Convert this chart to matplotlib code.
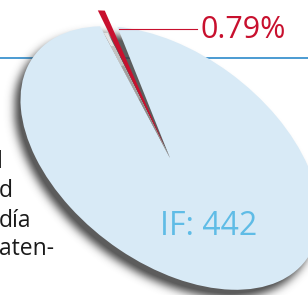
import numpy as np
import matplotlib
matplotlib.use('Agg')
from matplotlib import pyplot as plt
from matplotlib.patches import Wedge
from matplotlib.transforms import Affine2D

# data
shares = [0.79, 99.21]          # percent
slice_labels = ['0.79%', 'IF: 442']
side_text = ['l', 'd', 'día', 'aten-']

W, H = 308, 295
plt.rcParams['font.family'] = ['Open Sans', 'DejaVu Sans']

fig = plt.figure(figsize=(W / 100, H / 100), dpi=100)
ax = fig.add_axes([0, 0, 1, 1])
ax.set_xlim(0, W)
ax.set_ylim(H, 0)
ax.axis('off')

# tilted pie: unit circle -> ellipse
cx, cy, a, b, tilt = 170, 158, 170, 104, 37
pie_tr = Affine2D().scale(a, b).rotate_deg(tilt).translate(cx, cy) + ax.transData

# blue rule behind the pie
ax.plot([0, W], [58, 58], color='#1a80c6', lw=1.1, zorder=0.5)

# soft drop shadow (blurred ellipse mask)
pad = 40
yy, xx = np.mgrid[-pad:H + pad, -pad:W + pad] + 0.5
ox, oy = -6, 8
dx, dy = xx - (cx + ox), yy - (cy + oy)
c, s = np.cos(np.radians(tilt)), np.sin(np.radians(tilt))
u = (dx * c + dy * s) / a
v = (-dx * s + dy * c) / b
mask = (u ** 2 + v ** 2 <= 1).astype(float)
k = np.arange(-15, 16)
kern = np.exp(-k ** 2 / (2 * 4.5 ** 2))
kern /= kern.sum()
mask = np.apply_along_axis(lambda r: np.convolve(r, kern, mode='same'), 1, mask)
mask = np.apply_along_axis(lambda r: np.convolve(r, kern, mode='same'), 0, mask)
mask = mask[pad:pad + H, pad:pad + W]
shadow = np.zeros((H, W, 4))
shadow[..., :3] = 0.25
shadow[..., 3] = np.clip(mask * 1.0, 0, 0.85)
ax.imshow(shadow, extent=(0, W, H, 0), zorder=1, interpolation='bilinear')

# slice angles from the data
start = 219.6
small_span = shares[0] / 100 * 360
gap = 2.2
t1, t2 = start, start + small_span

big = Wedge((0, 0), 1, t2 + gap, t1 + 360 - gap, facecolor='#d8eaf6',
            edgecolor='none', transform=pie_tr, zorder=2)
ax.add_patch(big)

# grey wall of the gap
for r, col in [(0.95, '#e4e4e4'), (0.85, '#c2c2c2'), (0.7, '#a0a0a0'), (0.45, '#8a8a8a')]:
    ax.add_patch(Wedge((0, 0), r, t1 - gap, t1 - 0.3, facecolor=col,
                       edgecolor='none', transform=pie_tr, zorder=2.5))

# exploded red slice
mid = np.radians((t1 + t2) / 2)
ex = 0.09
red_tr = Affine2D().translate(ex * np.cos(mid), ex * np.sin(mid)) + pie_tr
ax.add_patch(Wedge((0, 0), 1.03, t1, t2, facecolor='#c8102e', edgecolor='none',
                   transform=red_tr, zorder=3))

# leader and labels
ax.plot([119, 197], [29, 29], color='#c8102e', lw=0.8, zorder=4)
ax.text(200, 38, slice_labels[0], color='#c8102e', fontsize=22,
        ha='left', va='baseline', zorder=5)
ax.text(209, 235, slice_labels[1], color='#5fbce6', fontsize=23,
        ha='center', va='baseline', zorder=5)

# clipped body text on the left
for txt, x, y in zip(side_text, [-3, -1, -1, -1], [168, 197, 227, 255]):
    ax.text(x, y, txt, color='#1a1a1a', fontsize=16.5, ha='left', va='baseline', zorder=5)

fig.savefig('out.png', dpi=100)
